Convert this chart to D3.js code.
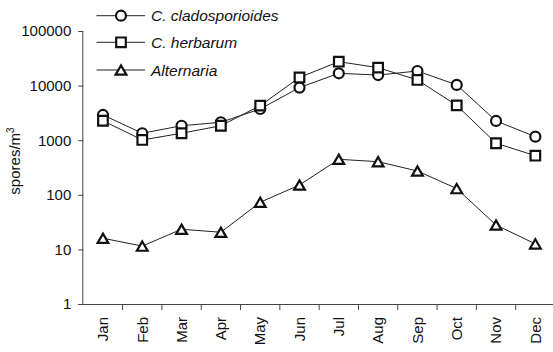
<!DOCTYPE html>
<html>
<head>
<meta charset="utf-8">
<script src="https://cdn.jsdelivr.net/npm/d3@7"></script>
<style>
  html, body { margin: 0; padding: 0; background: #fff; }
  svg { display: block; font-family: "Liberation Sans", Arial, sans-serif; }
</style>
</head>
<body>
<svg id="chart" width="553" height="352"></svg>
<script>
// Monthly airborne spore concentrations (log scale)
const months = ["Jan", "Feb", "Mar", "Apr", "May", "Jun", "Jul", "Aug", "Sep", "Oct", "Nov", "Dec"];
const cladosporioides = [2900, 1340, 1840, 2130, 3730, 9200, 16800, 15600, 18500, 10300, 2250, 1160];
const herbarum = [2270, 1010, 1340, 1840, 4290, 14100, 27400, 21300, 12700, 4350, 880, 520];
const alternaria = [16, 11.5, 23.4, 20.6, 73, 151, 447, 404, 273, 130, 28, 12.6];
const yTicks = [1, 10, 100, 1000, 10000, 100000];
const seriesNames = ["C. cladosporioides", "C. herbarum", "Alternaria"];

const svg = d3.select("#chart");
const plotLeft = 83.3, plotRight = 555, plotTop = 31, plotBottom = 304;

const x = d3.scaleBand().domain(months).range([plotLeft, plotRight]).padding(0);
const y = d3.scaleLog().domain([1, 100000]).range([plotBottom, plotTop]);

// Triangle marker with its bounding box centred on the point
const triangle = {
  draw(ctx, size) {
    const s = Math.sqrt(size * 4 / Math.sqrt(3));
    const h = s * Math.sqrt(3) / 2;
    ctx.moveTo(0, -h / 2);
    ctx.lineTo(s / 2, h / 2);
    ctx.lineTo(-s / 2, h / 2);
    ctx.closePath();
  }
};

const series = [
  { name: seriesNames[0], values: cladosporioides, symbol: d3.symbolCircle, size: Math.PI * 5 * 5 },
  { name: seriesNames[1], values: herbarum, symbol: d3.symbolSquare, size: 9.6 * 9.6 },
  { name: seriesNames[2], values: alternaria, symbol: triangle, size: 50 }
];

// Y axis
const yAxis = svg.append("g")
  .attr("transform", `translate(${plotLeft},0)`)
  .call(d3.axisLeft(y).tickValues(yTicks).tickFormat(d3.format("d")).tickSize(5).tickPadding(7));
yAxis.select(".domain").attr("stroke", "#444").attr("d", `M-0.5,${plotTop}V${plotBottom}`);
yAxis.selectAll(".tick line").attr("stroke", "#444");
yAxis.selectAll(".tick text").attr("font-size", 15).attr("fill", "#111")
  .attr("font-family", "Liberation Sans, Arial, sans-serif");

// X axis: boundary ticks and rotated month labels
const xAxis = svg.append("g").attr("transform", `translate(0,${plotBottom})`);
xAxis.append("line").attr("x1", plotLeft - 5).attr("x2", plotRight).attr("y1", 0.5).attr("y2", 0.5).attr("stroke", "#444");
const bounds = months.map(m => x(m)).concat([x(months[months.length - 1]) + x.bandwidth()]);
xAxis.selectAll("line.tk").data(bounds.slice(1)).join("line")
  .attr("class", "tk")
  .attr("x1", d => d).attr("x2", d => d).attr("y1", 0).attr("y2", 6).attr("stroke", "#444");
xAxis.selectAll("text").data(months).join("text")
  .attr("transform", d => `translate(${x(d) + x.bandwidth() / 2},13) rotate(-90)`)
  .attr("text-anchor", "end")
  .attr("dy", "0.35em")
  .attr("font-size", 15)
  .attr("fill", "#111")
  .text(d => d);

// Y axis title
const title = svg.append("text")
  .attr("transform", "translate(20,161) rotate(-90)")
  .attr("text-anchor", "middle")
  .attr("font-size", 15)
  .attr("fill", "#111");
title.append("tspan").text("spores/m");
title.append("tspan").attr("dy", -6).attr("font-size", 10).text("3");

// Series lines and markers
const line = d3.line()
  .x((d, i) => x(months[i]) + x.bandwidth() / 2)
  .y(d => y(d));

series.forEach(s => {
  svg.append("path")
    .datum(s.values)
    .attr("fill", "none")
    .attr("stroke", "#222")
    .attr("stroke-width", 1)
    .attr("d", line);
});
series.forEach(s => {
  svg.append("g").selectAll("path").data(s.values).join("path")
    .attr("transform", (d, i) => `translate(${x(months[i]) + x.bandwidth() / 2},${y(d)})`)
    .attr("d", d3.symbol(s.symbol, s.size))
    .attr("fill", "#fff")
    .attr("stroke", "#111")
    .attr("stroke-width", 2.2);
});

// Legend
const legendY = [15.7, 42.3, 70];
const legend = svg.append("g");
series.forEach((s, i) => {
  const g = legend.append("g").attr("transform", `translate(0,${legendY[i]})`);
  g.append("line").attr("x1", 96.5).attr("x2", 145).attr("y1", 0).attr("y2", 0)
    .attr("stroke", "#222").attr("stroke-width", 1);
  g.append("path").attr("transform", "translate(121,0)")
    .attr("d", d3.symbol(s.symbol, s.size))
    .attr("fill", "#fff").attr("stroke", "#111").attr("stroke-width", 2.2);
  g.append("text").attr("x", 151).attr("dy", "0.36em")
    .attr("font-size", 15.5).attr("font-style", "italic").attr("fill", "#111")
    .text(s.name);
});
</script>
</body>
</html>
